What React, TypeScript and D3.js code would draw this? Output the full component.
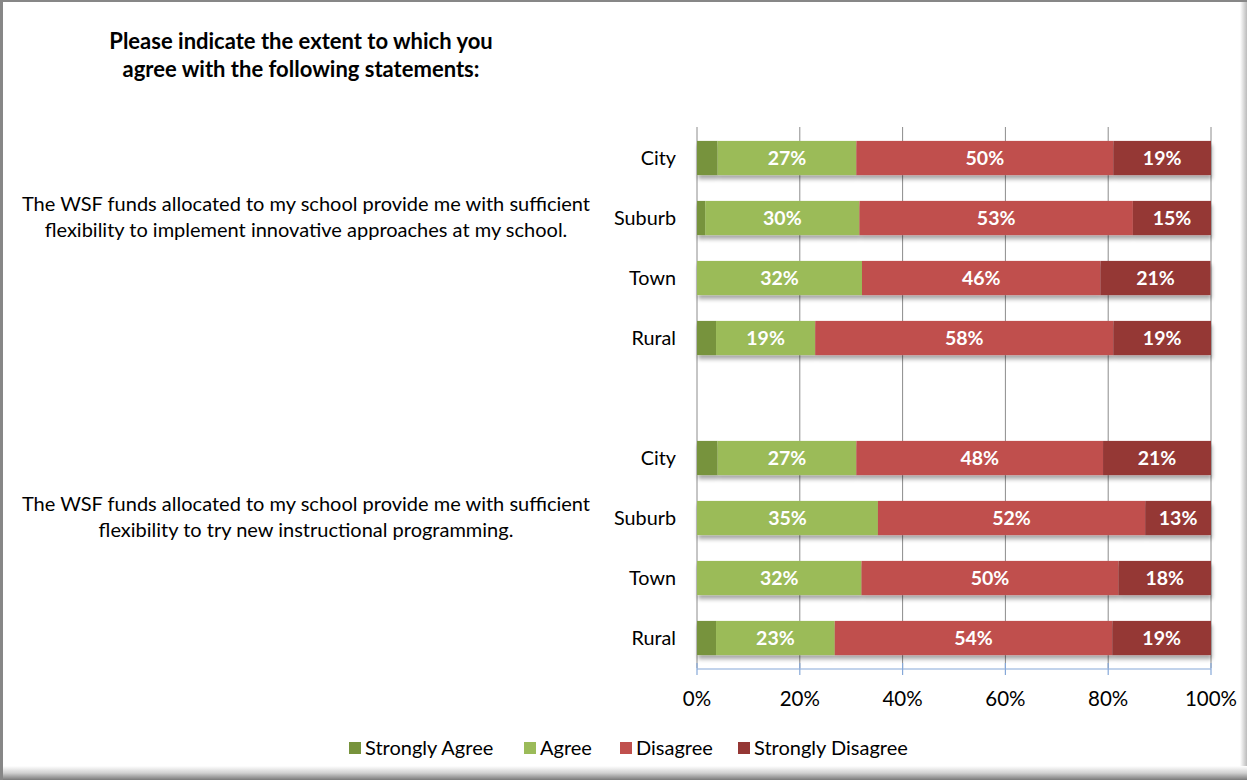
import React from "react";
import * as d3 from "d3";

const W = 1247;
const H = 780;

const titleLines = ["Please indicate the extent to which you", "agree with the following statements:"];
const statements = [
  ["The WSF funds allocated to my school provide me with sufficient", "flexibility to implement innovative approaches at my school."],
  ["The WSF funds allocated to my school provide me with sufficient", "flexibility to try new instructional programming."],
];
const locales = ["City", "Suburb", "Town", "Rural"];
const seriesNames = ["Strongly Agree", "Agree", "Disagree", "Strongly Disagree"];
const seriesColors = ["#77933C", "#9BBB59", "#C0504D", "#953735"];

// statement 1
const stronglyAgree1 = [4, 1.6, 0, 3.7];
const agree1 = [27, 30, 32.1, 19.3];
const disagree1 = [50, 53.2, 46.4, 58];
const stronglyDisagree1 = [19, 15.2, 21.4, 19];
// statement 2
const stronglyAgree2 = [4, 0, 0, 3.7];
const agree2 = [27, 35.2, 32, 23.1];
const disagree2 = [48, 52, 50, 54];
const stronglyDisagree2 = [21, 12.8, 18, 19.2];

const xTicks = [0, 20, 40, 60, 80, 100];

type Row = { key: string; label: string; values: number[] };

const rows: Row[] = [
  ...locales.map((l, i) => ({
    key: "s1-" + l,
    label: l,
    values: [stronglyAgree1[i], agree1[i], disagree1[i], stronglyDisagree1[i]],
  })),
  { key: "gap", label: "", values: [] },
  ...locales.map((l, i) => ({
    key: "s2-" + l,
    label: l,
    values: [stronglyAgree2[i], agree2[i], disagree2[i], stronglyDisagree2[i]],
  })),
];

const FONT = "Lato, 'Open Sans', sans-serif";

export default function App() {
  const x = d3.scaleLinear().domain([0, 100]).range([697, 1211]);
  const y = d3
    .scaleBand<string>()
    .domain(rows.map((r) => r.key))
    .range([128, 668])
    .paddingInner(0.43)
    .paddingOuter(0.215);
  const bh = y.bandwidth();

  const stackRows = rows.map((r) => {
    let acc = 0;
    const segs = r.values.map((v, i) => {
      const s = { x0: acc, x1: acc + v, v, i };
      acc += v;
      return s;
    });
    return { ...r, segs };
  });

  // statements sit beside the second row of each group
  const stmtAnchors = ["s1-Suburb", "s2-Suburb"].map((k) => (y(k) as number) + bh / 2);

  const legendX = [349, 524, 620, 738];

  return (
    <div style={{ position: "fixed", left: 0, top: 0 }}>
      <svg width={W} height={H} style={{ display: "block" }}>
        <defs>
          <filter id="shadow" x="-5%" y="-20%" width="110%" height="160%">
            <feGaussianBlur in="SourceAlpha" stdDeviation="2" />
            <feOffset dx="1" dy="4" result="b" />
            <feComponentTransfer>
              <feFuncA type="linear" slope="0.35" />
            </feComponentTransfer>
            <feMerge>
              <feMergeNode />
              <feMergeNode in="SourceGraphic" />
            </feMerge>
          </filter>
          <linearGradient id="bottomShade" x1="0" y1="0" x2="0" y2="1">
            <stop offset="0" stopColor="#ffffff" />
            <stop offset="0.5" stopColor="#d0d0d0" />
            <stop offset="1" stopColor="#7a7a7a" />
          </linearGradient>
          <linearGradient id="rightShade" x1="0" y1="0" x2="1" y2="0">
            <stop offset="0" stopColor="#ffffff" />
            <stop offset="1" stopColor="#bbbbbb" />
          </linearGradient>
        </defs>
        <rect x={0} y={0} width={W} height={H} fill="#ffffff" />
        {/* frame */}
        <rect x={1240} y={0} width={7} height={H} fill="url(#rightShade)" />
        <rect x={0} y={766} width={W} height={14} fill="url(#bottomShade)" />
        <rect x={0} y={0} width={W} height={2} fill="#878787" />
        <rect x={0} y={0} width={3} height={H} fill="#878787" />

        {/* title */}
        {titleLines.map((t, i) => (
          <text
            key={i}
            x={301}
            y={49 + i * 28}
            textAnchor="middle"
            fontFamily={FONT}
            fontWeight="bold"
            fontSize={22}
            fill="#000"
          >
            {t}
          </text>
        ))}

        {/* gridlines */}
        {xTicks.map((t) => (
          <line key={t} x1={x(t)} x2={x(t)} y1={127} y2={668} stroke="#8c8c8c" strokeWidth={1} />
        ))}

        {/* bars */}
        {stackRows.map((r) =>
          r.segs.length ? (
            <g key={r.key} filter="url(#shadow)">
              {r.segs.map((s) =>
                s.v > 0 ? (
                  <rect
                    key={s.i}
                    x={x(s.x0)}
                    y={y(r.key)}
                    width={x(s.x1) - x(s.x0)}
                    height={bh}
                    fill={seriesColors[s.i]}
                  />
                ) : null
              )}
            </g>
          ) : null
        )}
        {stackRows.map((r) =>
          r.segs
            .filter((s) => s.i > 0 && s.v > 0)
            .map((s) => (
              <text
                key={r.key + s.i}
                x={(x(s.x0) + x(s.x1)) / 2}
                y={(y(r.key) as number) + bh / 2 + 7}
                textAnchor="middle"
                fontFamily={FONT}
                fontWeight="bold"
                fontSize={19.5}
                fill="#ffffff"
              >
                {d3.format(".0f")(s.v) + "%"}
              </text>
            ))
        )}

        {/* axis */}
        <line x1={x(0)} x2={x(100)} y1={669} y2={669} stroke="#86a8d8" strokeWidth={1.2} />
        {xTicks.map((t) => (
          <line key={t} x1={x(t)} x2={x(t)} y1={663} y2={675} stroke="#86a8d8" strokeWidth={1.2} />
        ))}
        {xTicks.map((t) => (
          <text
            key={t}
            x={x(t)}
            y={706}
            textAnchor="middle"
            fontFamily={FONT}
            fontSize={20.5}
            fill="#000"
          >
            {t + "%"}
          </text>
        ))}

        {/* category labels */}
        {rows
          .filter((r) => r.label)
          .map((r) => (
            <text
              key={r.key}
              x={676}
              y={(y(r.key) as number) + bh / 2 + 7}
              textAnchor="end"
              fontFamily={FONT}
              fontSize={19.8}
              fill="#000"
            >
              {r.label}
            </text>
          ))}

        {/* statements */}
        {statements.map((lines, si) =>
          lines.map((t, li) => (
            <text
              key={si + "-" + li}
              x={306}
              y={stmtAnchors[si] - 7 + li * 26}
              textAnchor="middle"
              fontFamily={FONT}
              fontSize={20}
              fill="#000"
            >
              {t}
            </text>
          ))
        )}

        {/* legend */}
        {seriesNames.map((n, i) => (
          <g key={n}>
            <rect x={legendX[i]} y={742} width={12} height={12} fill={seriesColors[i]} />
            <text x={legendX[i] + 16} y={755} fontFamily={FONT} fontSize={20} fill="#000">
              {n}
            </text>
          </g>
        ))}
      </svg>
    </div>
  );
}
